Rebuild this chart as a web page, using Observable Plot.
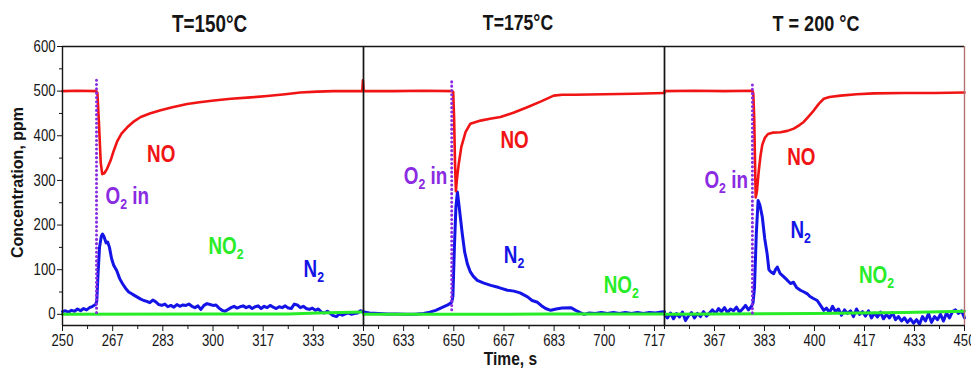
<!DOCTYPE html>
<html>
<head>
<meta charset="utf-8">
<script src="https://cdn.jsdelivr.net/npm/d3@7"></script>
<script src="https://cdn.jsdelivr.net/npm/@observablehq/plot@0.6"></script>
<style>
  html, body { margin: 0; padding: 0; background: #fff; }
  #chart { position: relative; width: 971px; height: 370px; overflow: hidden; background: #fff; }
</style>
</head>
<body>
<div id="chart"></div>
<script>
// ---------------- data ----------------
// y axis
const yTicks = [0, 100, 200, 300, 400, 500, 600];
const yMinor = [50, 150, 250, 350, 450, 550];
const yDomain = [-25, 600];

// panel titles
const titles = ["T=150°C", "T=175°C", "T = 200 °C"];

// x domains and ticks (time, s)
const xDomain150 = [250, 350];
const xDomain175 = [620, 720];
const xDomain200 = [350, 450];
const xTicks150 = [250, 266.67, 283.33, 300, 316.67, 333.33, 350];
const xTicks175 = [633.33, 650, 666.67, 683.33, 700, 716.67];
const xTicks200 = [366.67, 383.33, 400, 416.67, 433.33, 450];
const xMinor150 = [258.33, 275, 291.67, 308.33, 325, 341.67];
const xMinor175 = [625, 641.67, 658.33, 675, 691.67, 708.33, 720];
const xMinor200 = [358.33, 375, 391.67, 408.33, 425, 441.67];

// NO (ppm) at 150 °C
const no150 = [[250,500],[255,501],[261.2,500],[261.6,496],[262.1,430],[262.7,340],[263.2,314],[263.9,316],[264.8,326],[266,345],[267,366],[268.2,388],[269.6,405],[271.5,419],[273.5,431],[276,442],[279,450],[282.6,457],[286.5,464],[291.4,471],[295.5,475],[300.3,479],[306,483],[312.5,486],[318,489],[324,493],[329,497],[334.6,499],[340,500],[349.6,500],[349.8,524],[350,504]];
// N2 (ppm) at 150 °C
const n2_150 = [[250,6],[251,8],[252,5],[253,9],[254,7],[255,12],[256,8],[257,13],[258,10],[259,15],[260,18],[261,22],[261.4,30],[261.8,90],[262.3,150],[262.9,175],[263.3,180],[263.8,174],[264.5,160],[265,162],[265.6,150],[266.3,125],[267,110],[268,98],[269,80],[270,68],[271,58],[272,50],[273,46],[274,42],[275,38],[276,34],[277,31],[278,29],[279,26],[280,32],[281,28],[282,22],[283,20],[284,23],[285,17],[286,20],[287,16],[288,22],[289,18],[290,21],[291,20],[292,23],[293,18],[294,15],[295,19],[296,11],[297,20],[298,24],[299,22],[300,20],[301,21],[302,14],[303,9],[304,7],[305,11],[306,15],[307,18],[308,14],[309,17],[310,19],[311,15],[312,18],[313,13],[314,17],[315,19],[316,13],[317,18],[318,15],[319,20],[320,16],[321,13],[322,17],[323,15],[324,19],[325,14],[326,13],[327,23],[328,21],[329,15],[330,18],[331,13],[332,11],[333,14],[334,9],[335,12],[336,5],[337,3],[338,7],[339,2],[340,-3],[341,-5],[342,1],[343,-2],[344,1],[345,3],[346,0],[347,2],[348,3],[349,8],[350,6]];
// NO2 (ppm) at 150 °C
const no2_150 = [[250,0],[300,0.5],[325,1],[335,3],[342,4],[350,5]];

// NO at 175 °C
const no175 = [[620,500],[630,500],[640,501],[649.5,500],[649.8,498],[650.1,440],[650.4,340],[650.7,276],[651,300],[651.6,335],[652.5,375],[653.9,408],[655.5,427],[658.9,434],[662,438],[665.5,442],[670,452],[674.4,464],[679,477],[683.2,490],[686,492],[690,492],[700,493],[710,494],[720,496]];
// N2 at 175 °C
const n2_175 = [[620,5],[622,3],[625,2],[628,1],[631,1],[634,0],[637,0],[640,2],[642,5],[644,9],[646,15],[648,21],[649.3,27],[649.7,40],[650.2,150],[650.7,240],[651.2,274],[651.8,240],[652.8,181],[653.6,140],[654.5,113],[655.5,95],[656.5,85],[657.8,76],[660,70],[662.3,65],[665,60],[667.8,54],[670,52],[672,48],[674.5,39],[676,31],[677.8,27],[679,20],[680.5,13],[682.2,9],[684,12],[686,14],[688.9,15],[690.5,9],[692,4],[693.3,0],[695,3],[697,2],[699,4],[701,2],[703,4],[705,2],[707,4],[709,2],[711,4],[713,2],[715,4],[717,3],[719,5],[720,6]];
// NO2 at 175 °C
const no2_175 = [[620,0],[680,0.5],[720,1]];

// NO at 200 °C
const no200 = [[350,500],[360,501],[370,500],[379.3,501],[379.6,495],[379.9,440],[380.2,330],[380.4,262],[380.8,275],[381.4,320],[382,355],[382.6,380],[383.5,396],[384.5,404],[386,407],[388.7,408],[391,411],[393.1,416],[395,424],[396.4,431],[398,443],[399.8,457],[401.5,472],[403.1,483],[405,487],[408.7,490],[414,493],[419.8,495],[430,496],[440,496],[450,497]];
// N2 at 200 °C
const n2_200 = [[350,0],[351,-8],[352,3],[353,-10],[354,2],[355,-6],[356,5],[357,-14],[358,-3],[359,4],[360,-8],[361,2],[362,-5],[363,6],[364,-4],[365,3],[366,10],[367,2],[368,13],[369,6],[370,15],[371,4],[372,12],[373,8],[374,16],[375,5],[376,12],[377,20],[378,10],[379,18],[379.5,25],[380,60],[380.6,180],[381.2,255],[381.8,245],[382.6,218],[383.4,170],[384.2,136],[384.8,100],[385.5,95],[386.4,91],[387,100],[387.6,106],[388.5,92],[389.8,84],[391,76],[392,69],[393,72],[394,60],[395.3,54],[396.5,50],[397.6,46],[398.5,40],[399.5,36],[400.9,31],[402,20],[403.1,9],[404,14],[405,4],[406,18],[407,6],[408,12],[409,-2],[410,10],[411,2],[412,8],[413,-5],[414,12],[415,0],[416,6],[417,-4],[418,8],[419,-8],[420,3],[421,-6],[422,5],[423,-10],[424,0],[425,-8],[426,4],[427,-12],[428,-5],[429,-15],[430,-8],[431,-18],[432,-10],[433,-20],[434,-12],[435,-22],[436,-5],[437,-15],[438,2],[439,-18],[440,-5],[441,-12],[442,0],[443,-15],[444,3],[445,-8],[446,6],[447,10],[448,2],[449,8],[450,-8]];
// NO2 at 200 °C
const no2_200 = [[350,0],[400,2],[430,4],[450,7]];

// O2 switch-on time per panel and the extent of its dotted marker
const o2Time = [261.3, 649.3, 379.3];
const o2Top = [525, 528, 517];
const o2Bottom = [3, 9, 2];

// curve labels: [text, time, ppm]
const labels150 = [["NO", 278.1, 358], ["O₂ in", 264.3, 264], ["NO₂", 298.5, 152], ["N₂", 330.1, 100]];
const labels175 = [["NO", 665.5, 389], ["O₂ in", 633.4, 309], ["N₂", 666.6, 132], ["NO₂", 699.8, 65]];
const labels200 = [["NO", 390.9, 352], ["O₂ in", 363.3, 300], ["N₂", 392, 188], ["NO₂", 414.8, 87]];

// ---------------- styles ----------------
const FONT = '"Liberation Sans", Arial, sans-serif';
const SQUEEZE = 0.82; // the figure's lettering is horizontally condensed
const RED = "#f01414", BLUE = "#1414e6", GREEN = "#28ec28", PURPLE = "#8a2be2", INK = "#151515";
const colorOf = {"NO": RED, "O₂ in": PURPLE, "NO₂": GREEN, "N₂": BLUE};
const YLABEL = "Concentration, ppm";

const panels = [
  {title: titles[0], domain: xDomain150, ticks: xTicks150, minor: xMinor150, no: no150, n2: n2_150, no2: no2_150, labels: labels150, i: 0,
   left: 0, width: 363, mL: 62, mR: 0, titleSize: 23, titleDy: -22, titleDx: -3.5, yAxis: true},
  {title: titles[1], domain: xDomain175, ticks: xTicks175, minor: xMinor175, no: no175, n2: n2_175, no2: no2_175, labels: labels175, i: 1,
   left: 363, width: 301, mL: 0, mR: 0, titleSize: 21.5, titleDy: -23.5, titleDx: 4, xLabel: true},
  {title: titles[2], domain: xDomain200, ticks: xTicks200, minor: xMinor200, no: no200, n2: n2_200, no2: no2_200, labels: labels200, i: 2,
   left: 664, width: 307, mL: 0, mR: 7, titleSize: 22, titleDy: -22.7, titleDx: 1.5, rightColor: "#b27272"}
];

const X = d => d[0], Y = d => d[1];

function makePanel(p) {
  const marks = [
    Plot.line(p.n2, {x: X, y: Y, stroke: BLUE, strokeWidth: 3, strokeLinejoin: "round"}),
    Plot.line(p.no2, {x: X, y: Y, stroke: GREEN, strokeWidth: 3}),
    Plot.line(p.no, {x: X, y: Y, stroke: RED, strokeWidth: 2.6, strokeLinejoin: "round"}),
    Plot.ruleX([o2Time[p.i]], {y1: o2Bottom[p.i], y2: o2Top[p.i], stroke: PURPLE, strokeWidth: 3, strokeDasharray: "0.1 4.2", strokeLinecap: "round"}),
    // frame
    Plot.ruleY([yDomain[1]], {stroke: INK, strokeWidth: 1.4}),
    Plot.ruleY([yDomain[0]], {stroke: INK, strokeWidth: 1.4}),
    Plot.ruleX([p.domain[0]], {stroke: INK, strokeWidth: 1.4}),
    Plot.ruleX([p.domain[1]], {stroke: p.rightColor || INK, strokeWidth: 1.4}),
    // x axis
    Plot.axisX(p.ticks, {anchor: "bottom", tickSize: 6, tickPadding: 3, tickFormat: d => Math.round(d), label: null, stroke: INK, fill: INK, fontSize: 16}),
    Plot.axisX(p.minor, {anchor: "bottom", tickSize: 4, tickFormat: () => "", label: null, stroke: INK}),
    // title
    Plot.text([p.title], {text: d => d, frameAnchor: "top", lineAnchor: "middle", dy: p.titleDy, dx: p.titleDx,
      fontSize: p.titleSize, fontWeight: "bold", fontFamily: FONT, fill: INK})
  ];
  for (const [txt, t, v] of p.labels) {
    marks.push(Plot.text([[t, v, txt]], {x: X, y: Y, text: d => d[2], textAnchor: "start", lineAnchor: "middle",
      fill: colorOf[txt], fontSize: 23, fontWeight: "bold", fontFamily: FONT}));
  }
  if (p.yAxis) {
    marks.push(
      Plot.axisY(yTicks, {anchor: "left", tickSize: 5, tickPadding: 2, label: null, stroke: INK, fill: INK, fontSize: 16}),
      Plot.axisY(yMinor, {anchor: "left", tickSize: 3, tickFormat: () => "", label: null, stroke: INK}),
      Plot.text([YLABEL], {text: d => d, frameAnchor: "left", rotate: -90, textAnchor: "middle", lineAnchor: "middle", dx: -45, dy: -3.5,
        fontSize: 16, fontWeight: "bold", fontFamily: FONT, fill: INK})
    );
  }
  if (p.xLabel) {
    marks.push(Plot.text(["Time, s"], {text: d => d, frameAnchor: "bottom", lineAnchor: "middle", dy: 33.5, dx: -3.5,
      fontSize: 19, fontWeight: "bold", fontFamily: FONT, fill: INK}));
  }
  const svg = Plot.plot({
    width: p.width, height: 370,
    marginLeft: p.mL, marginRight: p.mR, marginTop: 46, marginBottom: 45,
    x: {domain: p.domain},
    y: {domain: yDomain, axis: p.yAxis ? undefined : null},
    style: {fontFamily: FONT, fontSize: "16px", background: "transparent", overflow: "visible",
      position: "absolute", left: p.left + "px", top: "0px", color: INK},
    marks
  });
  // typeset the subscript "2" of O2, NO2, N2
  svg.querySelectorAll("text").forEach(el => {
    const s = el.textContent;
    if (!s.includes("₂")) return;
    const [a, b] = s.split("₂");
    const size = 23, shift = 5;
    el.textContent = "";
    const ns = "http://www.w3.org/2000/svg";
    const t1 = document.createElementNS(ns, "tspan"); t1.textContent = a; el.appendChild(t1);
    const t2 = document.createElementNS(ns, "tspan"); t2.textContent = "2";
    t2.setAttribute("dy", shift); t2.setAttribute("font-size", Math.round(size * 0.64)); el.appendChild(t2);
    if (b) {
      const t3 = document.createElementNS(ns, "tspan"); t3.textContent = b;
      t3.setAttribute("dy", -shift); el.appendChild(t3);
    }
  });
  // condense horizontal lettering about each text's own anchor (horizontal scale only)
  svg.querySelectorAll("text").forEach(el => {
    if (el.textContent === YLABEL || !el.textContent) return;
    let x = parseFloat(el.getAttribute("x"));
    if (!Number.isFinite(x)) x = 0;
    const prev = el.getAttribute("transform") || "";
    el.setAttribute("transform", `${prev} translate(${x},0) scale(${SQUEEZE},1) translate(${-x},0)`.trim());
  });
  return svg;
}

const chart = document.getElementById("chart");
for (const p of panels) chart.appendChild(makePanel(p));
</script>
</body>
</html>
